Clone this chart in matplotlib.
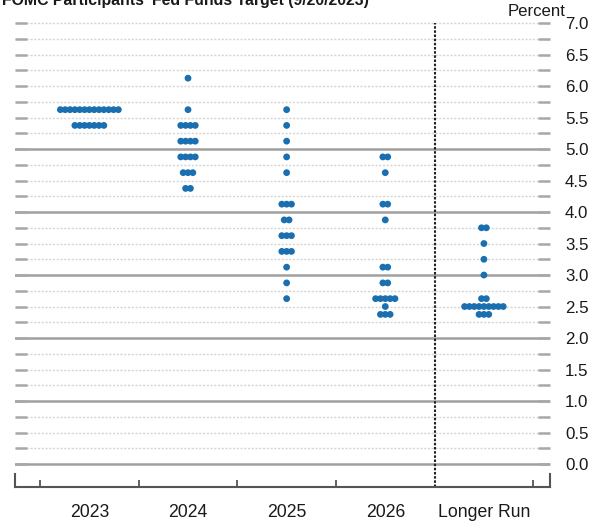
import numpy as np
import matplotlib
matplotlib.use("Agg")
import matplotlib.pyplot as plt

plt.rcParams['font.family'] = ['Liberation Sans', 'DejaVu Sans']

# ---------------- data ----------------
categories = ['2023', '2024', '2025', '2026', 'Longer Run']

rates_2023 = [5.625, 5.375]
counts_2023 = [13, 7]

rates_2024 = [6.125, 5.625, 5.375, 5.125, 4.875, 4.625, 4.375]
counts_2024 = [1, 1, 4, 4, 4, 3, 2]

rates_2025 = [5.625, 5.375, 5.125, 4.875, 4.625, 4.125, 3.875, 3.625, 3.375, 3.125, 2.875, 2.625]
counts_2025 = [1, 1, 1, 1, 1, 3, 2, 3, 3, 1, 1, 1]

rates_2026 = [4.875, 4.625, 4.125, 3.875, 3.125, 2.875, 2.625, 2.5, 2.375]
counts_2026 = [2, 1, 2, 1, 2, 2, 5, 1, 3]

rates_lr = [3.75, 3.5, 3.25, 3.0, 2.625, 2.5, 2.375]
counts_lr = [2, 1, 1, 1, 2, 9, 3]

y_ticks = [0.0, 0.5, 1.0, 1.5, 2.0, 2.5, 3.0, 3.5, 4.0, 4.5, 5.0, 5.5, 6.0, 6.5, 7.0]
title = "FOMC Participants' Fed Funds Target (9/20/2023)"

columns = [(rates_2023, counts_2023), (rates_2024, counts_2024),
           (rates_2025, counts_2025), (rates_2026, counts_2026),
           (rates_lr, counts_lr)]

# ---------------- figure ----------------
W, H = 603, 523
fig = plt.figure(figsize=(W / 100, H / 100), dpi=100)
ax_bottom_px = 487
ax_top_px = 19.9
ax = fig.add_axes([15 / W, (H - ax_bottom_px) / H, 535 / W, (ax_bottom_px - ax_top_px) / H])
ax_h_px = ax_bottom_px - ax_top_px

ymin, ymax = -0.365, 7.05
ax.set_ylim(ymin, ymax)
ax.set_xlim(-0.754, 4.67)

# grid lines
for v in np.arange(0, 7.001, 0.25):
    if abs(v - round(v)) < 1e-9 and v <= 5:
        ax.axhline(v, color='#a0a0a0', lw=1.8, zorder=1)
    else:
        ax.axhline(v, color='#d4d4d4', lw=1.0, linestyle=(0, (1.5, 1.2)), zorder=1)

# dots
spacing = 0.049
dot_color = '#1a6fb0'
for i, (rates, counts) in enumerate(columns):
    for r, c in zip(rates, counts):
        xs = i + (np.arange(c) - (c - 1) / 2) * spacing
        ax.scatter(xs, [r] * c, s=24, color=dot_color, edgecolors='none', zorder=3)

# dotted vertical separator
ax.axvline(3.5, ymin=0, ymax=(7.0 - ymin) / (ymax - ymin), color='#222222',
           lw=1.5, linestyle=(0, (1.2, 0.8)), zorder=2)

# spines
for s in ['left', 'right', 'top']:
    ax.spines[s].set_visible(False)
ax.spines['bottom'].set_color('#555555')
ax.spines['bottom'].set_linewidth(1.5)

# y ticks
ax.set_yticks(y_ticks)
ax.set_yticklabels([f'{v:.1f}' for v in y_ticks])
ax.set_yticks(np.arange(0.25, 7.0, 0.5), minor=True)
ax.tick_params(axis='y', which='both', left=True, right=True, direction='in',
               length=8.6, width=1.8, color='#a8a8a8', labelleft=False,
               labelright=True, pad=10.8, labelsize=12.2, labelcolor='#1a1a1a')

# x ticks
ax.set_xticks([-0.5, 0.5, 1.5, 2.5, 4.5])
ax.set_xticklabels([])
ax.tick_params(axis='x', which='both', direction='in', length=5.0, width=1.3,
               color='#555555')
for xa in (0, 1):
    ax.plot([xa, xa], [0, 13 / ax_h_px], transform=ax.transAxes, color='#555555',
            lw=1.5, clip_on=False, zorder=4)

# category labels
for i, cat in enumerate(categories):
    ax.text(i, -17 / ax_h_px, cat, transform=ax.get_xaxis_transform(),
            ha='center', va='top', fontsize=12.7, color='#1a1a1a')

# "Percent" label
fig.text(508 / W, 1 - 16 / H, 'Percent', ha='left', va='baseline', fontsize=12.1,
         color='#1a1a1a')

# title (partially cut off at the top, as in the reference)
t = fig.text(2 / W, 1 - 5 / H, title, ha='left', va='baseline', fontsize=13,
             fontweight='bold', color='#1a1a1a')
r = fig.canvas.get_renderer()
w = t.get_window_extent(renderer=r).width
t.set_fontsize(13 * 366 / w)

fig.savefig('out.png', dpi=100)
